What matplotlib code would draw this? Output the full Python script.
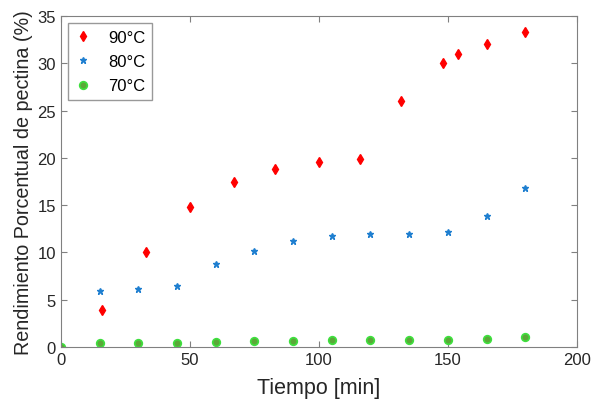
import numpy as np
import matplotlib.pyplot as plt

plt.rcParams['font.family'] = ['Liberation Sans', 'DejaVu Sans']

# tiempo [min] y rendimiento (%)
t_90 = [16, 33, 50, 67, 83, 100, 116, 132, 148, 154, 165, 180]
r_90 = [3.9, 10.0, 14.8, 17.5, 18.8, 19.6, 19.9, 26.0, 30.0, 31.0, 32.0, 33.3]

t_80 = [15, 30, 45, 60, 75, 90, 105, 120, 135, 150, 165, 180]
r_80 = [5.9, 6.1, 6.5, 8.8, 10.2, 11.2, 11.7, 12.0, 12.0, 12.2, 13.9, 16.8]

t_70 = [0, 15, 30, 45, 60, 75, 90, 105, 120, 135, 150, 165, 180]
r_70 = [0.0, 0.43, 0.4, 0.47, 0.53, 0.6, 0.67, 0.74, 0.77, 0.77, 0.8, 0.87, 1.07]

fig = plt.figure(figsize=(5.91, 4.02), dpi=100)
ax = fig.add_axes([0.103, 0.134, 0.873, 0.824])

ax.plot(t_90, r_90, 'd', color='#ff0000', markersize=5, label='90°C')
ax.plot(t_80, r_80, '*', color='#1f7fd0', markersize=4.5, label='80°C')
ax.plot(t_70, r_70, 'o', markerfacecolor='#5aa838', markeredgecolor='#3ee03e',
        markeredgewidth=1.2, markersize=5.5, label='70°C')

ax.set_xlim(0, 200)
ax.set_ylim(0, 35)
ax.set_xticks([0, 50, 100, 150, 200])
ax.set_yticks(np.arange(0, 36, 5))

for s in ax.spines.values():
    s.set_color('#808080')
ax.tick_params(direction='in', top=True, right=True, color='#808080',
               labelsize=12, labelcolor='#262626', length=4)

# la etiqueta queda pegada al borde inferior, como en el original
ax.set_xlabel('Tiempo [min]', fontsize=15.5, color='#262626', labelpad=7)
ax.set_ylabel('Rendimiento Porcentual de pectina (%)', fontsize=14.2, color='#262626', labelpad=3)

leg = ax.legend(loc='upper left', fontsize=12, fancybox=False, edgecolor='#808080',
                borderaxespad=0.45, handlelength=1.0, handletextpad=1.0,
                labelspacing=0.55, borderpad=0.4)
leg.get_frame().set_linewidth(1.0)

fig.savefig('out.png', dpi=100)
